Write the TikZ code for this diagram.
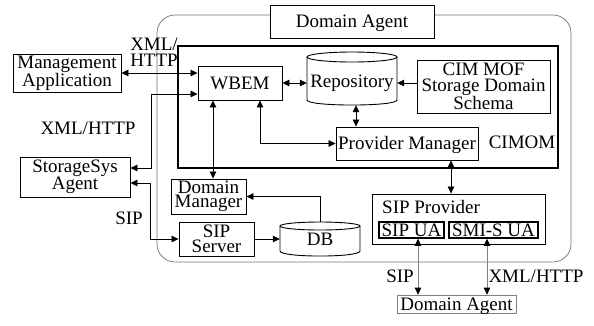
\documentclass[tikz,border=0pt]{standalone}
\usepackage{fontspec}
\setmainfont{Liberation Serif}
\usetikzlibrary{arrows.meta,calc}
\begin{document}
\begin{tikzpicture}[x=1pt,y=-1pt,
  every node/.style={font=\fontsize{19pt}{16pt}\selectfont, inner sep=0pt},
  captxt/.style={text height=12.5pt, text depth=0pt},
  box/.style={draw, line width=0.9pt, fill=white, align=center},
  arr/.style={line width=0.8pt, {Triangle[length=7pt,width=6.5pt]}-{Triangle[length=7pt,width=6.5pt]}},
  sarr/.style={line width=0.8pt, -{Triangle[length=7pt,width=6.5pt]}},
  garr/.style={line width=0.7pt, draw=black!50, {Triangle[length=7pt,width=6.5pt,color=black]}-{Triangle[length=7pt,width=6.5pt,color=black]}},
  cyl/.style={line width=0.9pt}
]
\useasboundingbox (0,0) rectangle (594,325);

% Domain Agent enclosure
\draw[black!55, line width=0.7pt, rounded corners=18pt] (157,15) rectangle (571,262);
\node[box, captxt, minimum width=164pt, minimum height=33pt] (DAtop) at (352,21.5) {Domain Agent};

% CIMOM frame
\node[draw, line width=1.4pt, minimum width=380pt, minimum height=122pt] (cimom) at (368,107) {};
\node[captxt] (cimomlbl) at (522,142) {CIMOM};

% boxes
\node[box, minimum width=108pt, minimum height=38pt, font=\fontsize{19pt}{17pt}\selectfont] (MA) at (67,73) {Management\\Application};
\node[box, captxt, minimum width=84pt, minimum height=34pt] (WBEM) at (240,83) {WBEM};
\node[box, minimum width=133pt, minimum height=53pt, font=\fontsize{19pt}{15.5pt}\selectfont] (CIM) at (483.5,86.5) {CIM MOF\\Storage Domain\\Schema};
\node[box, captxt, minimum width=142pt, minimum height=33pt] (PM) at (407,143.5) {Provider Manager};
\node[box, minimum width=110pt, minimum height=40pt, font=\fontsize{19pt}{17pt}\selectfont] (SSA) at (75,177) {StorageSys\\Agent};
\node[box, minimum width=75pt, minimum height=35pt, font=\fontsize{19pt}{14.5pt}\selectfont] (DM) at (208.5,196.5) {Domain\\Manager};
\node[box, minimum width=75pt, minimum height=34pt, font=\fontsize{19pt}{15.5pt}\selectfont] (SS) at (216.5,239) {SIP\\Server};

% Repository cylinder
\draw[cyl] (352,57) ellipse [x radius=45pt, y radius=5pt];
\draw[cyl] (307,57) -- (307,100) .. controls (307,106.7) and (397,106.7) .. (397,100) -- (397,57);
\node[captxt, minimum width=90pt, minimum height=48pt] (Repo) at (352,81) {Repository};

% DB cylinder
\draw[cyl] (320,226) ellipse [x radius=40pt, y radius=4pt];
\draw[cyl] (280,226) -- (280,251) .. controls (280,257.7) and (360,257.7) .. (360,251) -- (360,226);
\node[captxt, minimum width=80pt, minimum height=34pt] (DB) at (320,239) {DB};

% SIP Provider
\node[box, minimum width=173pt, minimum height=50pt] (SIPP) at (458.5,219) {};
\node[captxt, anchor=west] (SIPPlbl) at (382,207) {SIP Provider};
\node[draw, captxt, line width=1.5pt, minimum width=65pt, minimum height=16pt] (SIPUA) at (411.5,230) {SIP UA};
\node[draw, captxt, line width=1.5pt, minimum width=89pt, minimum height=16pt] (SMI) at (493.5,230) {SMI-S UA};

% remote Domain Agent
\node[draw=black!50, line width=0.7pt, captxt, minimum width=119pt, minimum height=18pt] (DA2) at (456.5,304) {Domain Agent};

% protocol labels
\node[align=center] (lblA) at (154,52) {XML/\\HTTP};
\node[captxt] (lblB) at (88,128) {XML/HTTP};
\node[captxt] (lblC) at (129,218) {SIP};
\node[captxt] (lblD) at (400,276) {SIP};
\node[captxt] (lblE) at (536,276) {XML/HTTP};

% routing helpers
\coordinate (jA) at (151,94);
\coordinate (xDM) at (213,0);
\coordinate (xPW) at (260,0);
\coordinate (xRP) at (356,0);
\coordinate (xPS) at (451,0);
\coordinate (xUA) at (418,0);
\coordinate (xSM) at (487,0);

% connectors
\draw[arr] (MA.east) -- (MA.east -| WBEM.west);
\draw[arr] ([yshift=9pt]SSA.east) -| (jA) -- (jA -| WBEM.west);
\draw[arr] ([yshift=-6pt]SSA.east) -| ([xshift=-28pt]SS.west) -- (SS.west);
\draw[arr] (xDM |- WBEM.south) -- (xDM |- DM.north);
\draw[arr] (PM.west) -| (xPW |- WBEM.south);
\draw[arr] (WBEM.east) -- (WBEM.east -| Repo.west);
\draw[sarr] (CIM.west |- WBEM.east) -- (WBEM.east -| Repo.east);
\draw[arr] (xRP |- Repo.south) -- (xRP |- PM.north);
\draw[arr] (xPS |- PM.south) -- (xPS |- SIPP.north);
\draw[sarr] (SS.east) -- (SS.east -| DB.west);
\draw[sarr] (DB.north) |- (DM.east);
\draw[garr] (xUA |- SIPUA.south) -- (xUA |- DA2.north);
\draw[garr] (xSM |- SMI.south) -- (xSM |- DA2.north);
\end{tikzpicture}
\end{document}
